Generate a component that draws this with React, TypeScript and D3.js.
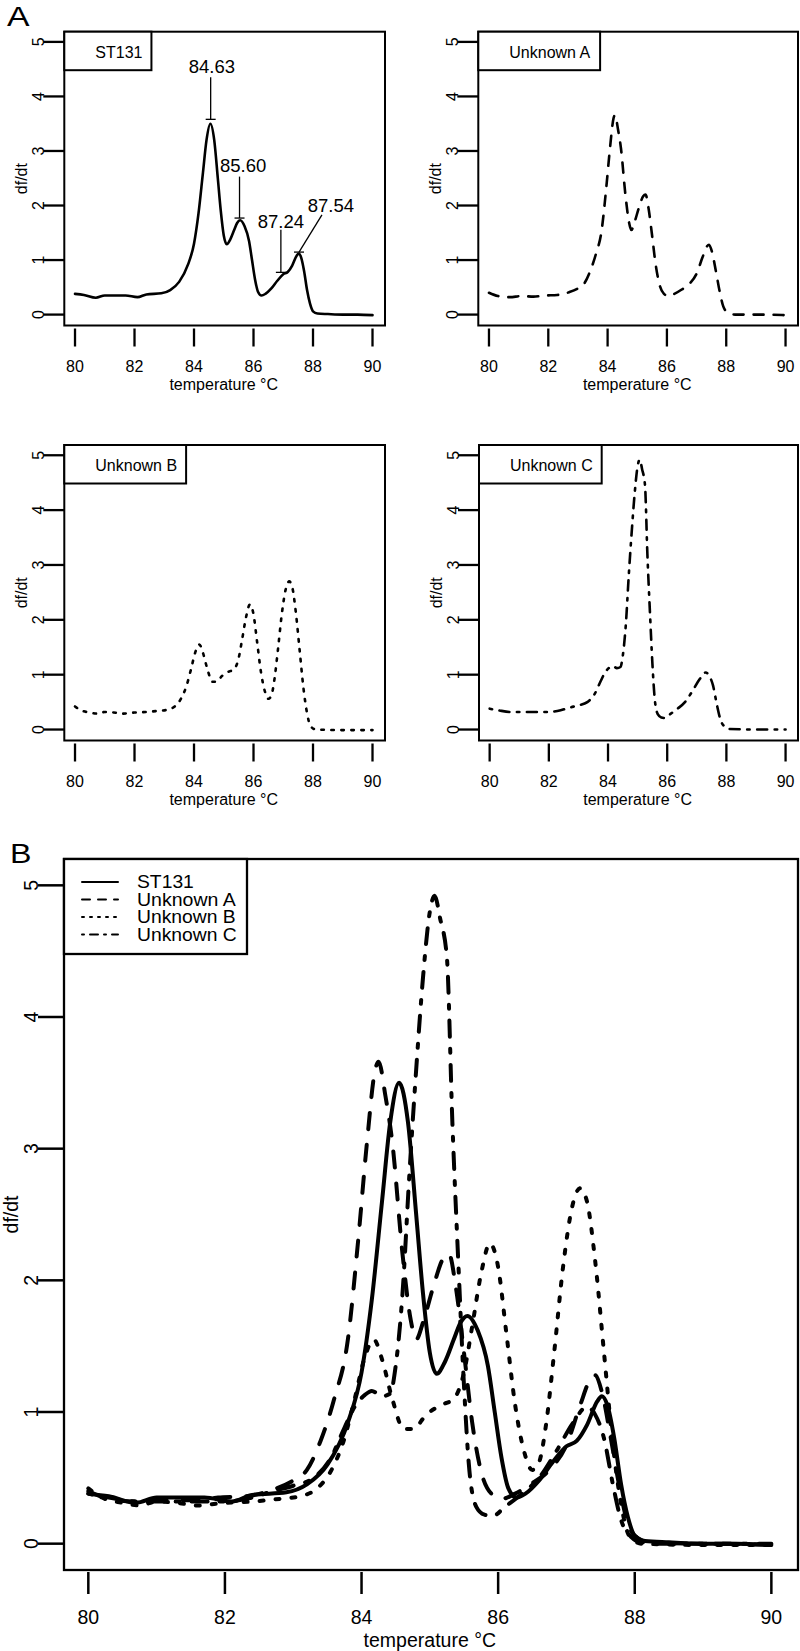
import React from 'react';
import * as d3 from 'd3';

// ---------- data ----------
const seriesNames = ['ST131', 'Unknown A', 'Unknown B', 'Unknown C'];

const st131T = [80.0, 80.3, 80.7, 81.0, 81.3, 81.7, 82.1, 82.4, 82.9, 83.2, 83.5, 83.8, 84.0, 84.15, 84.3, 84.42, 84.55, 84.68, 84.8, 84.9, 85.0, 85.1, 85.22, 85.35, 85.45, 85.55, 85.7, 85.85, 85.95, 86.05, 86.15, 86.27, 86.4, 86.6, 86.8, 87.0, 87.15, 87.3, 87.45, 87.52, 87.6, 87.7, 87.8, 87.9, 88.0, 88.15, 88.5, 89.0, 89.5, 90.0];
const st131V = [0.38, 0.36, 0.31, 0.35, 0.35, 0.35, 0.32, 0.37, 0.39, 0.45, 0.6, 0.92, 1.3, 1.85, 2.6, 3.2, 3.5, 3.2, 2.5, 1.9, 1.45, 1.29, 1.38, 1.55, 1.68, 1.73, 1.62, 1.35, 1.0, 0.65, 0.42, 0.35, 0.38, 0.48, 0.62, 0.74, 0.78, 0.9, 1.08, 1.12, 1.05, 0.8, 0.45, 0.2, 0.06, 0.02, 0.01, 0.0, 0.0, -0.01];

const unkAT = [80.0, 80.3, 80.7, 81.1, 81.5, 81.9, 82.3, 82.7, 83.0, 83.2, 83.4, 83.6, 83.8, 83.95, 84.08, 84.2, 84.25, 84.35, 84.45, 84.6, 84.72, 84.8, 84.9, 85.05, 85.2, 85.28, 85.38, 85.5, 85.62, 85.75, 85.9, 86.05, 86.25, 86.5, 86.75, 87.0, 87.2, 87.35, 87.42, 87.52, 87.65, 87.78, 87.9, 88.05, 88.3, 89.0, 90.0];
const unkAV = [0.40, 0.34, 0.32, 0.34, 0.33, 0.35, 0.36, 0.41, 0.48, 0.56, 0.78, 1.1, 1.55, 2.3, 3.05, 3.6, 3.66, 3.4, 3.05, 2.2, 1.7, 1.55, 1.68, 1.95, 2.17, 2.2, 1.95, 1.45, 0.92, 0.55, 0.38, 0.34, 0.38, 0.46, 0.56, 0.75, 1.05, 1.25, 1.28, 1.15, 0.8, 0.42, 0.15, 0.04, 0.0, 0.0, -0.01];

const unkBT = [80.0, 80.2, 80.5, 80.75, 81.0, 81.3, 81.6, 82.0, 82.4, 82.8, 83.1, 83.35, 83.55, 83.75, 83.9, 84.05, 84.18, 84.3, 84.45, 84.62, 84.75, 84.95, 85.15, 85.35, 85.5, 85.62, 85.75, 85.88, 86.0, 86.12, 86.25, 86.38, 86.5, 86.6, 86.7, 86.82, 86.95, 87.08, 87.2, 87.3, 87.42, 87.55, 87.68, 87.8, 87.92, 88.1, 89.0, 90.0];
const unkBV = [0.42, 0.35, 0.31, 0.29, 0.32, 0.31, 0.29, 0.31, 0.32, 0.34, 0.36, 0.42, 0.55, 0.8, 1.1, 1.42, 1.55, 1.4, 1.1, 0.87, 0.87, 0.98, 1.05, 1.1, 1.3, 1.65, 2.05, 2.28, 2.1, 1.6, 1.05, 0.7, 0.56, 0.62, 0.9, 1.45, 2.1, 2.55, 2.7, 2.6, 2.15, 1.45, 0.75, 0.3, 0.06, 0.0, -0.01, -0.01];

const unkCT = [80.0, 80.3, 80.7, 81.1, 81.5, 82.0, 82.4, 82.7, 83.0, 83.3, 83.55, 83.75, 83.9, 84.05, 84.15, 84.3, 84.42, 84.5, 84.6, 84.7, 84.8, 84.9, 85.0, 85.07, 85.15, 85.25, 85.33, 85.42, 85.5, 85.58, 85.68, 85.8, 85.92, 86.1, 86.35, 86.6, 86.85, 87.1, 87.3, 87.42, 87.55, 87.68, 87.8, 87.95, 88.1, 89.0, 90.0];
const unkCV = [0.38, 0.35, 0.32, 0.32, 0.32, 0.32, 0.35, 0.40, 0.44, 0.50, 0.65, 0.88, 1.04, 1.13, 1.16, 1.12, 1.14, 1.35, 1.9, 2.8, 3.6, 4.3, 4.8, 4.92, 4.75, 4.45, 3.2, 2.1, 1.2, 0.55, 0.28, 0.22, 0.21, 0.28, 0.38, 0.5, 0.7, 0.92, 1.04, 0.98, 0.8, 0.45, 0.18, 0.05, 0.01, 0.0, 0.0];

const seriesT = [st131T, unkAT, unkBT, unkCT];
const seriesV = [st131V, unkAV, unkBV, unkCV];

const xTicks = [80, 82, 84, 86, 88, 90];
const yTicks = [0, 1, 2, 3, 4, 5];

// ST131 peak annotations
const peakLabels = ['84.63', '85.60', '87.24', '87.54'];
const peakTextT = [84.6, 85.65, 86.92, 88.6];
const peakTextV = [4.54, 2.73, 1.71, 2.0];
const peakFromT = [84.56, 85.53, 86.92, 88.3];
const peakFromV = [4.35, 2.53, 1.555, 1.83];
const peakToT = [84.56, 85.53, 86.92, 87.53];
const peakToV = [3.58, 1.77, 0.774, 1.146];

// ---------- styles ----------
const FONT = "'Liberation Sans', Arial, Helvetica, sans-serif";
const X_DOMAIN_A: [number, number] = [79.64, 90.42];
const X_DOMAIN_B: [number, number] = [79.644, 90.39];
const Y_DOMAIN: [number, number] = [-0.2, 5.187];

const dashA = ['none', '10 10', '2.5 7.5', '2.5 7.5 10 7.5'];
const dashB = ['none', '16 16', '4 12', '4 12 16 12'];
const dashLeg = ['none', '8 8', '2 6', '2 6 8 6'];

const charW: Record<string, number> = { S: 0.667, T: 0.611, '1': 0.556, '3': 0.556, U: 0.722, n: 0.556, k: 0.5, o: 0.556, w: 0.722, ' ': 0.278, A: 0.667, B: 0.667, C: 0.722 };
const textW = (s: string, fs: number) => s.split('').reduce((a, c) => a + (charW[c] ?? 0.556), 0) * fs;

type Box = { left: number; right: number; top: number; bottom: number };

const panelsA: (Box & { s: number })[] = [
  { left: 64.3, right: 385, top: 31.7, bottom: 325.5, s: 0 },
  { left: 478.3, right: 798, top: 31.7, bottom: 325.5, s: 1 },
  { left: 64.3, right: 385, top: 445, bottom: 740.5, s: 2 },
  { left: 479, right: 798, top: 445, bottom: 740.5, s: 3 },
];
const boxB: Box = { left: 64, right: 798, top: 859, bottom: 1570 };

function makeLine(xs: d3.ScaleLinear<number, number>, ys: d3.ScaleLinear<number, number>) {
  return d3
    .line<[number, number]>()
    .x((d) => xs(d[0]))
    .y((d) => ys(d[1]))
    .curve(d3.curveMonotoneX);
}

function RotText({ cx, cy, fs, children }: { cx: number; cy: number; fs: number; children: React.ReactNode }) {
  const bx = cx + 0.35 * fs;
  return (
    <text x={bx} y={cy} fontSize={fs} textAnchor="middle" transform={`rotate(-90 ${bx} ${cy})`} fontFamily={FONT}>
      {children}
    </text>
  );
}

function PanelA({ p }: { p: Box & { s: number } }) {
  const xs = d3.scaleLinear().domain(X_DOMAIN_A).range([p.left, p.right]);
  const ys = d3.scaleLinear().domain(Y_DOMAIN).range([p.bottom, p.top]);
  const line = makeLine(xs, ys);
  const fs = 16;
  const data = d3.zip(seriesT[p.s], seriesV[p.s]) as [number, number][];
  const name = seriesNames[p.s];
  const legW = 31 + textW(name, fs) + 9;
  return (
    <g>
      <path d={line(data) ?? ''} fill="none" stroke="#000" strokeWidth={2.6} strokeDasharray={dashA[p.s]} strokeLinecap="round" strokeLinejoin="round" />
      <rect x={p.left} y={p.top} width={p.right - p.left} height={p.bottom - p.top} fill="none" stroke="#000" strokeWidth={2} />
      {xTicks.map((t) => (
        <g key={t}>
          <line x1={xs(t)} x2={xs(t)} y1={p.bottom + 3} y2={p.bottom + 21} stroke="#000" strokeWidth={2.3} />
          <text x={xs(t)} y={p.bottom + 41.3 + 0.35 * fs} fontSize={fs} textAnchor="middle" fontFamily={FONT}>
            {t}
          </text>
        </g>
      ))}
      {yTicks.map((t) => (
        <g key={t}>
          <line x1={p.left - 21} x2={p.left} y1={ys(t)} y2={ys(t)} stroke="#000" strokeWidth={2.3} />
          <RotText cx={p.left - 26} cy={ys(t)} fs={fs}>
            {t}
          </RotText>
        </g>
      ))}
      <text x={(xs(80) + xs(90)) / 2} y={p.bottom + 58.7 + 0.35 * fs} fontSize={fs} textAnchor="middle" fontFamily={FONT}>
        temperature °C
      </text>
      <RotText cx={p.left - 43} cy={(p.top + p.bottom) / 2} fs={fs}>
        df/dt
      </RotText>
      <rect x={p.left} y={p.top} width={legW} height={38.5} fill="#fff" stroke="#000" strokeWidth={2} />
      <text x={p.left + 31} y={p.top + 20.3 + 0.35 * fs} fontSize={fs} fontFamily={FONT}>
        {name}
      </text>
      {p.s === 0 &&
        peakLabels.map((lab, i) => (
          <g key={lab}>
            <text x={xs(peakTextT[i])} y={ys(peakTextV[i]) + 0.35 * 18.5} fontSize={18.5} textAnchor="middle" fontFamily={FONT}>
              {lab}
            </text>
            <line x1={xs(peakFromT[i])} y1={ys(peakFromV[i])} x2={xs(peakToT[i])} y2={ys(peakToV[i])} stroke="#000" strokeWidth={1.3} />
            <line x1={xs(peakToT[i]) - 5} x2={xs(peakToT[i]) + 5} y1={ys(peakToV[i])} y2={ys(peakToV[i])} stroke="#000" strokeWidth={1.3} />
          </g>
        ))}
    </g>
  );
}

function PanelB() {
  const p = boxB;
  const xs = d3.scaleLinear().domain(X_DOMAIN_B).range([p.left, p.right]);
  const ys = d3.scaleLinear().domain([-0.2, 5.2]).range([p.bottom, p.top]);
  const line = makeLine(xs, ys);
  const fs = 19.5;
  const legFs = 18.5;
  const rows = [882, 899.5, 917, 934.5];
  return (
    <g>
      {seriesNames.map((n, i) => {
        const data = d3.zip(seriesT[i], seriesV[i]) as [number, number][];
        return <path key={n} d={line(data) ?? ''} fill="none" stroke="#000" strokeWidth={4} strokeDasharray={dashB[i]} strokeLinecap="round" strokeLinejoin="round" />;
      })}
      <rect x={p.left} y={p.top} width={p.right - p.left} height={p.bottom - p.top} fill="none" stroke="#000" strokeWidth={2.3} />
      {xTicks.map((t) => (
        <g key={t}>
          <line x1={xs(t)} x2={xs(t)} y1={p.bottom + 2} y2={p.bottom + 24} stroke="#000" strokeWidth={2.5} />
          <text x={xs(t)} y={p.bottom + 47.5 + 0.35 * fs} fontSize={fs} textAnchor="middle" fontFamily={FONT}>
            {t}
          </text>
        </g>
      ))}
      {yTicks.map((t) => (
        <g key={t}>
          <line x1={p.left - 26} x2={p.left} y1={ys(t)} y2={ys(t)} stroke="#000" strokeWidth={2.5} />
          <RotText cx={p.left - 33} cy={ys(t)} fs={fs}>
            {t}
          </RotText>
        </g>
      ))}
      <text x={(xs(80) + xs(90)) / 2} y={p.bottom + 70 + 0.35 * fs} fontSize={fs} textAnchor="middle" fontFamily={FONT}>
        temperature °C
      </text>
      <RotText cx={p.left - 52.5} cy={(p.top + p.bottom) / 2} fs={fs}>
        df/dt
      </RotText>
      <rect x={p.left} y={p.top} width={183} height={95} fill="#fff" stroke="#000" strokeWidth={2.3} />
      {seriesNames.map((n, i) => (
        <g key={n}>
          <line x1={p.left + 18} x2={p.left + 54} y1={rows[i]} y2={rows[i]} stroke="#000" strokeWidth={2} strokeDasharray={dashLeg[i]} strokeLinecap="round" />
          <text x={p.left + 73} y={rows[i] + 0.35 * legFs} fontSize={legFs} fontFamily={FONT} textLength={textW(n, 19.3)} lengthAdjust="spacingAndGlyphs">
            {n}
          </text>
        </g>
      ))}
    </g>
  );
}

export default function App() {
  return (
    <svg width={800} height={1651} style={{ position: 'absolute', left: 0, top: 0, background: '#fff' }}>
      <rect x={0} y={0} width={800} height={1651} fill="#fff" />
      <text x={7} y={26} fontSize={27} fontFamily={FONT} transform="translate(7 26) scale(1.25 1) translate(-7 -26)">
        A
      </text>
      {panelsA.map((p) => (
        <PanelA key={p.s} p={p} />
      ))}
      <text x={10} y={863} fontSize={28} fontFamily={FONT} transform="translate(10 863) scale(1.15 1) translate(-10 -863)">
        B
      </text>
      <PanelB />
    </svg>
  );
}
